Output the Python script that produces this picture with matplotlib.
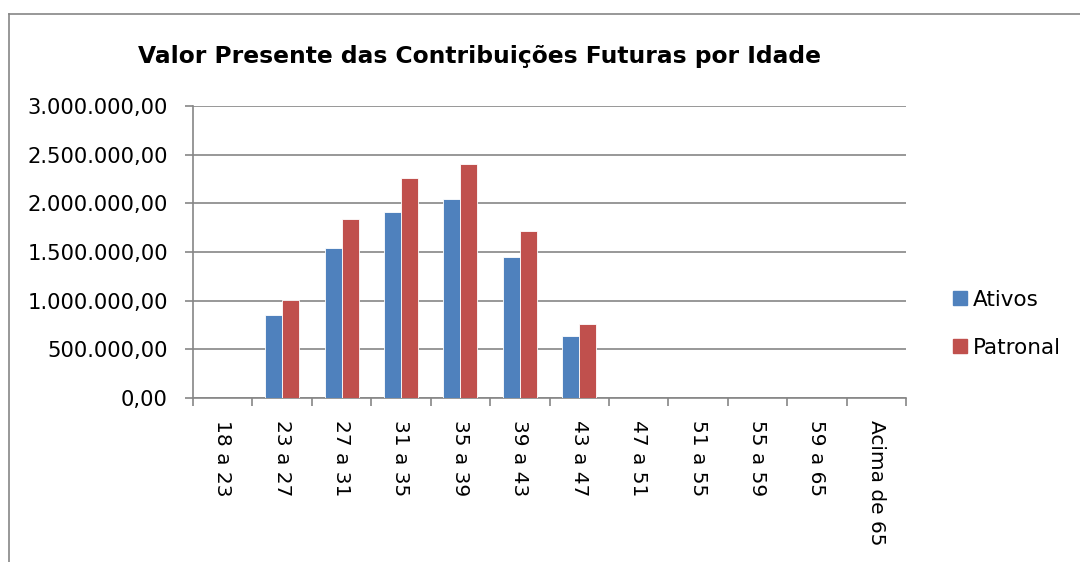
import matplotlib.pyplot as plt
import numpy as np
from matplotlib.lines import Line2D
from matplotlib.ticker import FuncFormatter

plt.rcParams['font.family'] = ['DejaVu Sans']

categorias = ['18 a 23', '23 a 27', '27 a 31', '31 a 35', '35 a 39', '39 a 43',
              '43 a 47', '47 a 51', '51 a 55', '55 a 59', '59 a 65', 'Acima de 65']
ativos = [0, 852000, 1545000, 1914000, 2041000, 1445000, 641000, 0, 0, 0, 0, 0]
patronal = [0, 1007000, 1834000, 2259000, 2407000, 1714000, 759000, 0, 0, 0, 0, 0]

azul = '#4F81BD'
vermelho = '#C0504D'
cinza = '#868686'

def fmt_br(v, pos):
    s = '{:,.2f}'.format(v)
    return s.replace(',', 'X').replace('.', ',').replace('X', '.')

fig = plt.figure(figsize=(10.8, 5.62), dpi=100)
ax = fig.add_axes([193/1080, 1 - 398/562, 713/1080, 292/562])

x = np.arange(len(categorias))
w = 1 / 3.5
ax.bar(x - w/2, ativos, w, color=azul, edgecolor='white', linewidth=0.6, label='Ativos', zorder=3)
ax.bar(x + w/2, patronal, w, color=vermelho, edgecolor='white', linewidth=0.6, label='Patronal', zorder=3)

ax.set_xlim(-0.5, len(categorias) - 0.5)
ax.set_ylim(0, 3000000)
ax.set_yticks(np.arange(0, 3000001, 500000))
ax.yaxis.set_major_formatter(FuncFormatter(fmt_br))
ax.grid(axis='y', color=cinza, linewidth=1.2, zorder=0)

ax.set_xticks(np.arange(-0.5, len(categorias), 1))
ax.set_xticklabels([])
ax.set_xticks(x, minor=True)
ax.set_xticklabels(categorias, minor=True, rotation=-90, fontsize=14.5, va='top')
ax.tick_params(axis='x', which='minor', length=0, pad=16)
ax.tick_params(axis='x', which='major', length=6, color=cinza, width=1.2)
ax.tick_params(axis='y', length=6, color=cinza, width=1.2, labelsize=15.2, pad=12)

for s in ['top', 'right']:
    ax.spines[s].set_visible(False)
for s in ['left', 'bottom']:
    ax.spines[s].set_color(cinza)
    ax.spines[s].set_linewidth(1.2)

fig.text(479/1080, 1 - 56/562, 'Valor Presente das Contribuições Futuras por Idade',
         ha='center', va='center', fontsize=16.8, fontweight='bold')

handles = [Line2D([], [], marker='s', linestyle='none', markersize=10, color=azul),
           Line2D([], [], marker='s', linestyle='none', markersize=10, color=vermelho)]
fig.legend(handles, ['Ativos', 'Patronal'], loc='center left',
           bbox_to_anchor=(938/1080, 1 - 324/562), frameon=False, fontsize=15.5,
           handletextpad=0.1, labelspacing=1.3, handlelength=1.0, borderpad=0)

# moldura do grafico (cortada a direita e embaixo)
fig.add_artist(Line2D([9/1080, 9/1080], [0, 1 - 14/562], color=cinza, linewidth=1.2,
                      transform=fig.transFigure))
fig.add_artist(Line2D([9/1080, 1], [1 - 14/562, 1 - 14/562], color=cinza, linewidth=1.2,
                      transform=fig.transFigure))

fig.savefig('out.png', dpi=100)
